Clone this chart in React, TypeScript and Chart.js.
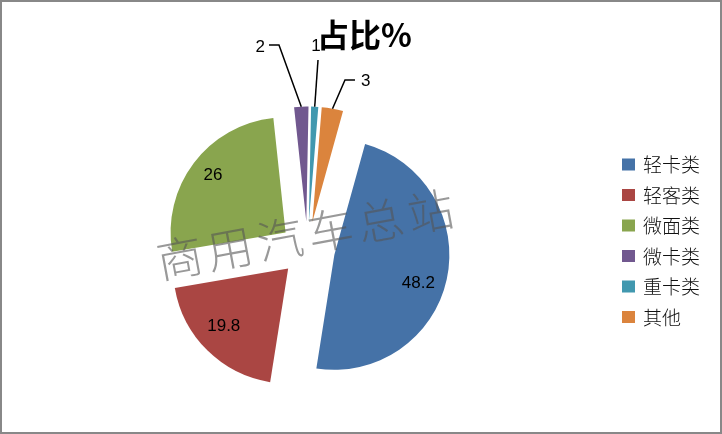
import React, { useEffect, useRef } from 'react';
import { Chart, registerables } from 'chart.js';

Chart.register(...registerables);

// ---- data ----
const categories = ['轻卡类', '轻客类', '微面类', '微卡类', '重卡类', '其他'];
const shares = [48.2, 19.8, 26, 2, 1, 3];
const sliceColors = ['#4572A7', '#AA4643', '#89A54E', '#71588F', '#4198AF', '#DB843D'];
const titleText = '占比%';
const watermarkText = '商用汽车总站';

// ---- layout / style config ----
const EXPLODE = 27.5;
const inLabel = [
  { frac: 0.77, dAngle: 6.3 },
  { frac: 0.754, dAngle: 3.3 },
  { frac: 0.8, dAngle: 0.9 },
];
const callouts: any[] = [
  null, null, null,
  { dx: -22.3, dy: -61.6, hx: -10, align: 'right', tx: -4, ty: 2 },
  { dx: 3.3, dy: -46.7, hx: 0, align: 'center', tx: -2, ty: -13.5 },
  { dx: 12.5, dy: -28.7, hx: 10, align: 'left', tx: 6, ty: 1 },
];

const LABEL_FONT = '17px "Liberation Sans", Arial, sans-serif';
const CJK = '"Noto Sans CJK SC", "Noto Sans", sans-serif';

const explodePlugin = {
  id: 'explodeSlices',
  beforeDatasetDraw(chart: any, args: any) {
    const ctx = chart.ctx;
    args.meta.data.forEach((el: any) => {
      const mid = (el.startAngle + el.endAngle) / 2;
      ctx.save();
      ctx.translate(Math.cos(mid) * EXPLODE, Math.sin(mid) * EXPLODE);
      el.draw(ctx, chart.chartArea);
      ctx.restore();
    });
    return false;
  },
};

const decorPlugin = {
  id: 'decor',
  beforeDraw(chart: any) {
    const ctx = chart.ctx;
    ctx.save();
    ctx.fillStyle = '#ffffff';
    ctx.fillRect(0, 0, chart.width, chart.height);
    ctx.restore();
  },
  afterDatasetsDraw(chart: any) {
    const ctx = chart.ctx;
    const meta = chart.getDatasetMeta(0);
    const values = chart.data.datasets[0].data;

    // watermark
    ctx.save();
    ctx.translate(305, 234.5);
    ctx.rotate((-10.5 * Math.PI) / 180);
    ctx.font = `300 46px ${CJK}`;
    try { (ctx as any).letterSpacing = '5px'; } catch (e) {}
    ctx.fillStyle = 'rgba(85,85,85,0.6)';
    ctx.textAlign = 'center';
    ctx.textBaseline = 'middle';
    ctx.fillText(watermarkText, 2.5, 0);
    ctx.restore();

    // title
    ctx.save();
    ctx.font = `bold 32px ${CJK}`;
    ctx.fillStyle = '#000';
    ctx.textAlign = 'center';
    ctx.textBaseline = 'middle';
    ctx.fillText(titleText, 364.5, 35);
    ctx.restore();

    // data labels
    meta.data.forEach((el: any, i: number) => {
      const mid = (el.startAngle + el.endAngle) / 2;
      const cx = el.x + Math.cos(mid) * EXPLODE;
      const cy = el.y + Math.sin(mid) * EXPLODE;
      const r = el.outerRadius;
      const txt = String(values[i]);
      ctx.save();
      ctx.font = LABEL_FONT;
      ctx.fillStyle = '#000';
      ctx.textBaseline = 'middle';
      if (inLabel[i]) {
        const a = mid + (inLabel[i].dAngle * Math.PI) / 180;
        const rr = r * inLabel[i].frac;
        ctx.textAlign = 'center';
        ctx.fillText(txt, cx + Math.cos(a) * rr, cy + Math.sin(a) * rr);
      } else if (callouts[i]) {
        const c = callouts[i];
        const ox = cx + Math.cos(mid) * r;
        const oy = cy + Math.sin(mid) * r;
        const ex = ox + c.dx;
        const ey = oy + c.dy;
        const hx = ex + c.hx;
        ctx.strokeStyle = '#000';
        ctx.lineWidth = 1.5;
        ctx.beginPath();
        ctx.moveTo(ox, oy);
        ctx.lineTo(ex, ey);
        if (c.hx !== 0) ctx.lineTo(hx, ey);
        ctx.stroke();
        ctx.textAlign = c.align;
        ctx.fillText(txt, hx + c.tx, ey + c.ty);
      }
      ctx.restore();
    });

    // legend
    ctx.save();
    ctx.font = `300 19px ${CJK}`;
    ctx.textBaseline = 'middle';
    ctx.textAlign = 'left';
    categories.forEach((name, i) => {
      const y = 164.5 + i * 30.5;
      ctx.fillStyle = sliceColors[i];
      ctx.fillRect(622, y - 6, 13, 12);
      ctx.fillStyle = '#111111';
      ctx.fillText(name, 643, y + 0.5);
    });
    ctx.restore();

    // border
    ctx.save();
    ctx.strokeStyle = '#888888';
    ctx.lineWidth = 2;
    ctx.strokeRect(1, 1, chart.width - 2, chart.height - 2);
    ctx.restore();
  },
};

export default function App() {
  const ref = useRef<HTMLCanvasElement | null>(null);
  useEffect(() => {
    if (!ref.current) return;
    const chart = new Chart(ref.current, {
      type: 'pie',
      data: {
        labels: categories,
        datasets: [
          {
            data: shares,
            backgroundColor: sliceColors,
            borderWidth: 0,
          },
        ],
      },
      options: {
        responsive: false,
        animation: false,
        devicePixelRatio: 1,
        radius: 115,
        rotation: 15.5,
        layout: { padding: { left: 0, right: 107, top: 64, bottom: 0 } },
        plugins: {
          legend: { display: false },
          title: { display: false },
          tooltip: { enabled: false },
        },
        events: [],
      } as any,
      plugins: [explodePlugin, decorPlugin],
    });
    return () => chart.destroy();
  }, []);
  return (
    <div style={{ position: 'absolute', left: 0, top: 0, width: 722, height: 434 }}>
      <canvas ref={ref} width={722} height={434} style={{ display: 'block' }} />
    </div>
  );
}
